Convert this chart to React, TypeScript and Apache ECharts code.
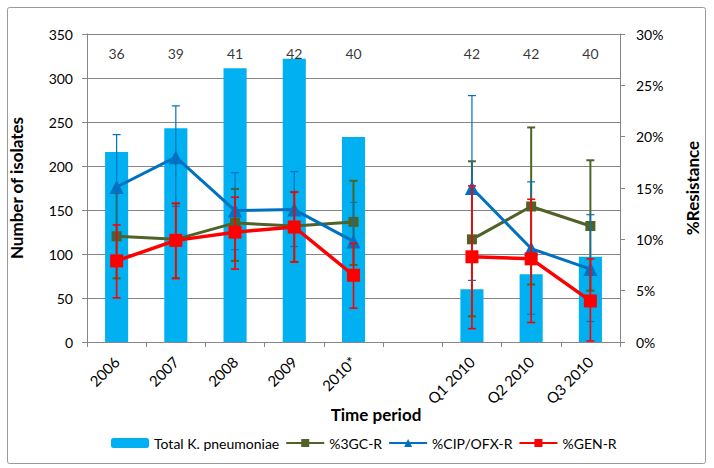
import React, { useEffect, useRef } from 'react';
import * as echarts from 'echarts';

const categories = ['2006', '2007', '2008', '2009', '2010*', '', 'Q1 2010', 'Q2 2010', 'Q3 2010'];
const totals = [216, 243, 311, 322, 233, null, 60, 77, 97];
const counts = [36, 39, 41, 42, 40, null, 42, 42, 40];

const gc3 = [10.3, 10.0, 11.6, 11.3, 11.7, null, 10.0, 13.2, 11.3];
const gc3Low = [6.2, 6.2, 7.9, 7.8, 7.5, null, 2.5, 5.6, 5.0];
const gc3High = [14.5, 13.5, 14.9, 14.6, 15.7, null, 17.6, 20.9, 17.7];

const cip = [15.1, 18.0, 12.8, 12.9, 9.8, null, 15.0, 9.1, 7.1];
const cipLow = [10.3, 13.2, 9.0, 9.3, 6.4, null, 6.0, 2.7, 2.0];
const cipHigh = [20.2, 23.0, 16.5, 16.6, 13.6, null, 24.0, 15.6, 12.4];

const gen = [7.9, 9.9, 10.7, 11.2, 6.5, null, 8.3, 8.1, 4.0];
const genLow = [4.3, 6.2, 7.1, 7.8, 3.3, null, 1.3, 1.9, 0.1];
const genHigh = [11.4, 13.5, 14.1, 14.6, 9.6, null, 15.2, 13.9, 8.1];

const FONT = 'Lato';
const GREEN = '#4F6228';
const BLUE = '#0070C0';
const RED = '#FF0000';
const BAR = '#00B0F0';
const AXIS = '#868686';

function errorSeries(id: string, low: (number | null)[], high: (number | null)[], color: string, width: number, z: number) {
  const data: number[][] = [];
  low.forEach((l, i) => {
    const h = high[i];
    if (l != null && h != null) data.push([i, l, h]);
  });
  return {
    type: 'custom',
    name: id,
    yAxisIndex: 1,
    z,
    silent: true,
    data,
    renderItem: (params: any, api: any) => {
      const x = api.value(0);
      const lo = api.coord([x, api.value(1)]);
      const hi = api.coord([x, api.value(2)]);
      const hw = 4;
      const style = { stroke: color, lineWidth: width, fill: 'none' };
      return {
        type: 'group',
        children: [
          { type: 'line', shape: { x1: lo[0], y1: lo[1], x2: hi[0], y2: hi[1] }, style },
          { type: 'line', shape: { x1: lo[0] - hw, y1: lo[1], x2: lo[0] + hw, y2: lo[1] }, style },
          { type: 'line', shape: { x1: hi[0] - hw, y1: hi[1], x2: hi[0] + hw, y2: hi[1] }, style },
        ],
      };
    },
  };
}

export default function App() {
  const ref = useRef<HTMLDivElement>(null);
  useEffect(() => {
    document.body.style.margin = '0';
    const chart = echarts.init(ref.current!, null, { renderer: 'svg' });
    const labelY = 328;
    const option: any = {
      animation: false,
      backgroundColor: '#fff',
      textStyle: { fontFamily: FONT },
      grid: { left: 87, right: 94, top: 34, bottom: 126 },
      legend: {
        data: ['Total K. pneumoniae', '%3GC-R', '%CIP/OFX-R', '%GEN-R'],
        left: 106,
        top: 431,
        itemWidth: 38,
        itemHeight: 10,
        itemGap: 6,
        textStyle: { fontFamily: FONT, fontSize: 14, color: '#000' },
      },
      xAxis: {
        type: 'category',
        data: categories,
        boundaryGap: true,
        axisLine: { lineStyle: { color: AXIS, width: 1 } },
        axisTick: { show: true, length: 5, interval: 0, alignWithLabel: false, lineStyle: { color: AXIS } },
        axisLabel: { rotate: 45, interval: 0, margin: 17, fontSize: 15, color: '#000', fontFamily: FONT },
        splitLine: { show: false },
      },
      yAxis: [
        {
          type: 'value',
          min: 0,
          max: 350,
          interval: 50,
          name: 'Number of isolates',
          nameLocation: 'middle',
          nameRotate: 90,
          nameGap: 62,
          nameTextStyle: { fontFamily: FONT, fontSize: 17, fontWeight: 'bold', color: '#000' },
          axisLine: { show: true, lineStyle: { color: AXIS } },
          axisTick: { show: true, length: 5, lineStyle: { color: AXIS } },
          axisLabel: { fontSize: 14, color: '#000', margin: 14, fontFamily: FONT },
          splitLine: { show: true, lineStyle: { color: AXIS, width: 1 } },
        },
        {
          type: 'value',
          position: 'right',
          min: 0,
          max: 30,
          interval: 5,
          name: '%Resistance',
          nameLocation: 'middle',
          nameRotate: 90,
          nameGap: 64,
          nameTextStyle: { fontFamily: FONT, fontSize: 17, fontWeight: 'bold', color: '#000', padding: [0, 0, 0, 0] },
          axisLine: { show: true, lineStyle: { color: AXIS } },
          axisTick: { show: true, length: 5, lineStyle: { color: AXIS } },
          axisLabel: { fontSize: 14, color: '#000', margin: 16, formatter: '{value}%', fontFamily: FONT },
          splitLine: { show: false },
        },
      ],
      graphic: [
        {
          type: 'rect',
          shape: { x: 7.5, y: 7.5, width: 698, height: 456, r: 2 },
          style: { fill: 'none', stroke: '#9a9a9a', lineWidth: 1 },
          silent: true,
        },
        {
          type: 'text',
          x: 376,
          y: 414,
          style: {
            text: 'Time period',
            fontFamily: FONT,
            fontSize: 17,
            fontWeight: 'bold',
            fill: '#000',
            align: 'center',
            verticalAlign: 'middle',
          },
        },
      ],
      series: [
        {
          type: 'bar',
          name: 'Total K. pneumoniae',
          data: totals.map((v) => (v == null ? '-' : v)),
          barWidth: '39%',
          itemStyle: { color: BAR },
          z: 1,
        },
        {
          type: 'scatter',
          name: 'counts',
          silent: true,
          symbolSize: 0,
          data: counts.map((c, i) => (c == null ? null : [i, labelY, c])).filter((d) => d != null),
          label: {
            show: true,
            position: 'inside',
            formatter: (p: any) => String(p.value[2]),
            fontFamily: FONT,
            fontSize: 14,
            color: '#000',
          },
          z: 2,
        },
        errorSeries('err3gc', gc3Low, gc3High, GREEN, 2, 3),
        {
          type: 'line',
          name: '%3GC-R',
          yAxisIndex: 1,
          data: gc3.map((v) => (v == null ? '-' : v)),
          connectNulls: false,
          symbol: 'rect',
          symbolSize: 10,
          lineStyle: { color: GREEN, width: 3 },
          itemStyle: { color: GREEN },
          z: 4,
        },
        errorSeries('errcip', cipLow, cipHigh, BLUE, 1.2, 5),
        {
          type: 'line',
          name: '%CIP/OFX-R',
          yAxisIndex: 1,
          data: cip.map((v) => (v == null ? '-' : v)),
          connectNulls: false,
          symbol: 'triangle',
          symbolSize: 14,
          lineStyle: { color: BLUE, width: 3 },
          itemStyle: { color: BLUE },
          z: 6,
        },
        errorSeries('errgen', genLow, genHigh, RED, 1.6, 7),
        {
          type: 'line',
          name: '%GEN-R',
          yAxisIndex: 1,
          data: gen.map((v) => (v == null ? '-' : v)),
          connectNulls: false,
          symbol: 'rect',
          symbolSize: 13,
          lineStyle: { color: RED, width: 3.5 },
          itemStyle: { color: RED },
          z: 8,
        },
      ],
    };
    chart.setOption(option);
    return () => chart.dispose();
  }, []);
  return (
    <div
      ref={ref}
      style={{ position: 'absolute', left: 0, top: 0, width: 714, height: 468 }}
    />
  );
}
